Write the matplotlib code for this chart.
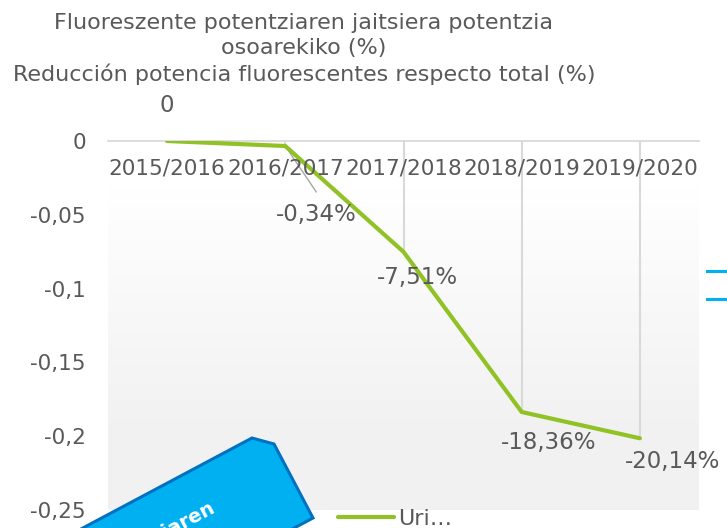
import numpy as np
import matplotlib.pyplot as plt
from matplotlib.patches import Polygon
from matplotlib.lines import Line2D

# data
seasons = ["2015/2016", "2016/2017", "2017/2018", "2018/2019", "2019/2020"]
reduction = [0.0, -0.0034, -0.0751, -0.1836, -0.2014]
point_labels = ["0", "-0,34%", "-7,51%", "-18,36%", "-20,14%"]
y_ticks = [0, -0.05, -0.1, -0.15, -0.2, -0.25]
y_tick_labels = ["0", "-0,05", "-0,1", "-0,15", "-0,2", "-0,25"]
series_name = "Uri…"

title = ("Fluoreszente potentziaren jaitsiera potentzia\nosoarekiko (%)\n"
         "Reducción potencia fluorescentes respecto total (%)")

GREEN = "#90C226"
GREY_TXT = "#595959"
GRID = "#d9d9d9"

W, H = 727, 528
plt.rcParams['font.family'] = ['DejaVu Sans']
fig = plt.figure(figsize=(W / 100, H / 100), dpi=100)
ax = fig.add_axes([108 / W, 1 - 510 / H, 591 / W, 369 / H])

x = np.arange(len(seasons))
ax.set_xlim(-0.5, len(seasons) - 0.5)
ax.set_ylim(-0.25, 0)

# plot area gradient (white -> light grey)
grad = np.linspace(0, 1, 200)
grad = np.clip(grad / 0.72, 0, 1)
c0 = np.array([1.0, 1.0, 1.0])
c1 = np.array([0.949, 0.949, 0.949])
img = (c0[None, :] * (1 - grad[:, None]) + c1[None, :] * grad[:, None])[:, None, :]
ax.imshow(img, extent=(-0.5, len(seasons) - 0.5, -0.25, -0.031),
          aspect='auto', zorder=0, interpolation='bilinear')

# drop lines from each point to the axis
ax.vlines(x, reduction, 0, colors=GRID, lw=1.5, zorder=1)

# leader line for the second label
ax.annotate("", xy=(x[1], reduction[1]), xytext=(31, -46),
            textcoords='offset pixels',
            arrowprops=dict(arrowstyle='-', color='#a6a6a6', lw=1,
                            shrinkA=0, shrinkB=0), zorder=2)

ax.plot(x, reduction, color=GREEN, lw=3, solid_capstyle='round',
        solid_joinstyle='round', zorder=3, label=series_name)

# data labels
offsets = [(0, 36), (31, -68), (14, -26), (27, -31), (33, -23)]
for xi, yi, lab, off in zip(x, reduction, point_labels, offsets):
    ax.annotate(lab, (xi, yi), xytext=off, textcoords='offset pixels',
                ha='center', va='center', fontsize=16.5, color=GREY_TXT,
                zorder=4, annotation_clip=False)

# category labels sit just under the zero line
ax.set_xticks([])
for xi, s in zip(x, seasons):
    ax.annotate(s, (xi, 0), xytext=(0, -27), textcoords='offset pixels',
                ha='center', va='center', fontsize=15.5, color=GREY_TXT)

ax.set_yticks(y_ticks)
ax.set_yticklabels(y_tick_labels)
ax.tick_params(axis='y', length=0, pad=16, labelsize=15.5, labelcolor=GREY_TXT)

for side in ['left', 'right', 'bottom']:
    ax.spines[side].set_visible(False)
ax.spines['top'].set_color(GRID)
ax.spines['top'].set_linewidth(1.3)

fig.text(304 / W, 1 - 49 / H, title, ha='center', va='center',
         multialignment='center', linespacing=1.3, fontsize=16,
         color=GREY_TXT)

leg = ax.legend(loc='center left', bbox_to_anchor=(338 / W, 1 - 519 / H),
                bbox_transform=fig.transFigure, frameon=False, borderpad=0,
                borderaxespad=0, handlelength=2.5, handletextpad=0.2,
                fontsize=16)
for t in leg.get_texts():
    t.set_color(GREY_TXT)

# blue callout shape poking in at the bottom left
def px(p):
    return (p[0] / W, 1 - p[1] / H)

shape_px = [(252, 438), (274, 444), (313, 518), (136, 612), (-13, 579)]
fig.patches.append(Polygon([px(p) for p in shape_px], closed=True,
                           transform=fig.transFigure, facecolor='#00B0F0',
                           edgecolor='#0070C0', lw=2.2, zorder=10))
fig.text(216 / W, 1 - 511 / H, "potentziaren", rotation=28,
         rotation_mode='anchor', ha='right', va='baseline',
         fontsize=14, fontweight='bold', color='white', zorder=11)

# cut-off lines at the right edge
for yy in [271, 299]:
    fig.add_artist(Line2D([707 / W, 1.0], [1 - yy / H] * 2,
                          transform=fig.transFigure, color='#00B0F0', lw=2.2))

fig.savefig("out.png", dpi=100)
